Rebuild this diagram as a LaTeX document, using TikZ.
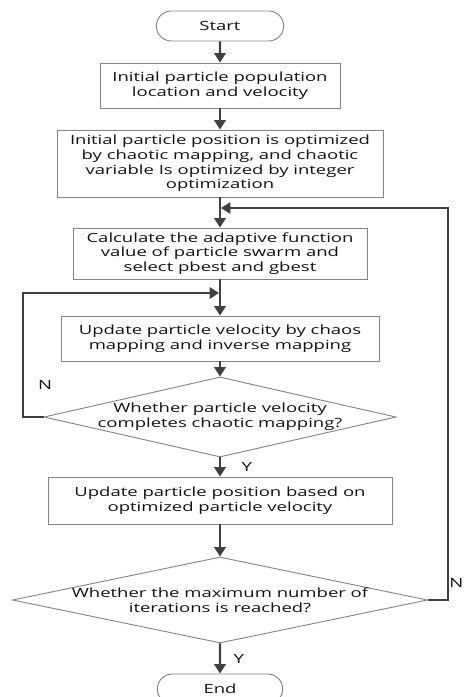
\documentclass[tikz,border=0pt]{standalone}
\usepackage{fontspec}
\setmainfont{Open Sans}[FakeStretch=1.46]
\usetikzlibrary{arrows.meta, shapes.geometric, shapes.misc}
\definecolor{cline}{HTML}{404040}
\definecolor{cedge}{HTML}{858585}
\definecolor{ctext}{HTML}{111111}
\tikzset{
  every picture/.style={font=\fontsize{9.5}{11}\selectfont, text=ctext},
  box/.style={draw=cedge, line width=0.7pt, align=center, inner sep=1pt},
  term/.style={box, rounded rectangle, minimum width=97.5pt, minimum height=22.5pt},
  cond/.style={draw=cedge, line width=0.7pt, diamond, inner sep=0pt},
  ctext/.style={align=center},
  arrow/.style={-{Triangle[length=7pt, width=8.5pt]}, draw=cline, line width=1.6pt},
  yn/.style={font=\fontsize{9.5}{11}\selectfont},
}

\begin{document}
\begin{tikzpicture}[x=0.75pt, y=-0.75pt]
  \useasboundingbox (0,0) rectangle (469,697);
  \node[term] (s) at (220,26) {Start};
  \node[box, minimum width=180pt, minimum height=33.75pt] (i) at (220,85.5)
    {Initial particle population\\location and velocity};
  \node[box, minimum width=244.5pt, minimum height=50.25pt] (o) at (220,163.5)
    {Initial particle position is optimized\\by chaotic mapping, and chaotic\\variable Is optimized by integer\\optimization};
  \node[box, minimum width=220.5pt, minimum height=38.25pt] (c) at (220,253.5)
    {Calculate the adaptive function\\value of particle swarm and\\select pbest and gbest};
  \node[box, minimum width=238.5pt, minimum height=33.75pt] (u) at (220,338.5)
    {Update particle velocity by chaos\\mapping and inverse mapping};
  \node[cond, minimum width=264pt, minimum height=60pt,
    label={[ctext]center:Whether particle velocity\\completes chaotic mapping?}] (q) at (220,417) {};
  \node[box, minimum width=258pt, minimum height=35.25pt] (p) at (220,500.5)
    {Update particle position based on\\optimized particle velocity};
  \node[cond, minimum width=311.25pt, minimum height=64.5pt,
    label={[ctext]center:Whether the maximum number of\\iterations is reached?}] (w) at (220,600) {};
  \node[term, minimum width=96pt] (e) at (220,689) {End};
  % main flow
  \draw[arrow] (s) -- (i);
  \draw[arrow] (i) -- (o);
  \draw[arrow] (o) -- (c);
  \draw[arrow] (c) -- (u);
  \draw[arrow] (u) -- (q);
  \draw[arrow] (q) -- node[yn, right, xshift=12pt] (y1) {Y} (p);
  \draw[arrow] (p) -- (w);
  \draw[arrow] (w) -- node[yn, right, xshift=6pt] (y2) {Y} (e);
  % loops back
  \coordinate (ll) at (23,293);
  \coordinate (jl) at (219,293);
  \draw[arrow] (q.west) -| (ll) -- (jl);
  \node[yn] (n1) at (45,385) {N};
  \coordinate (lr) at (448,208);
  \coordinate (jr) at (221,208);
  \draw[arrow] (w.east) -| (lr) -- (jr);
  \node[yn, anchor=east] (n2) at (468,583) {N};
\end{tikzpicture}
\end{document}
